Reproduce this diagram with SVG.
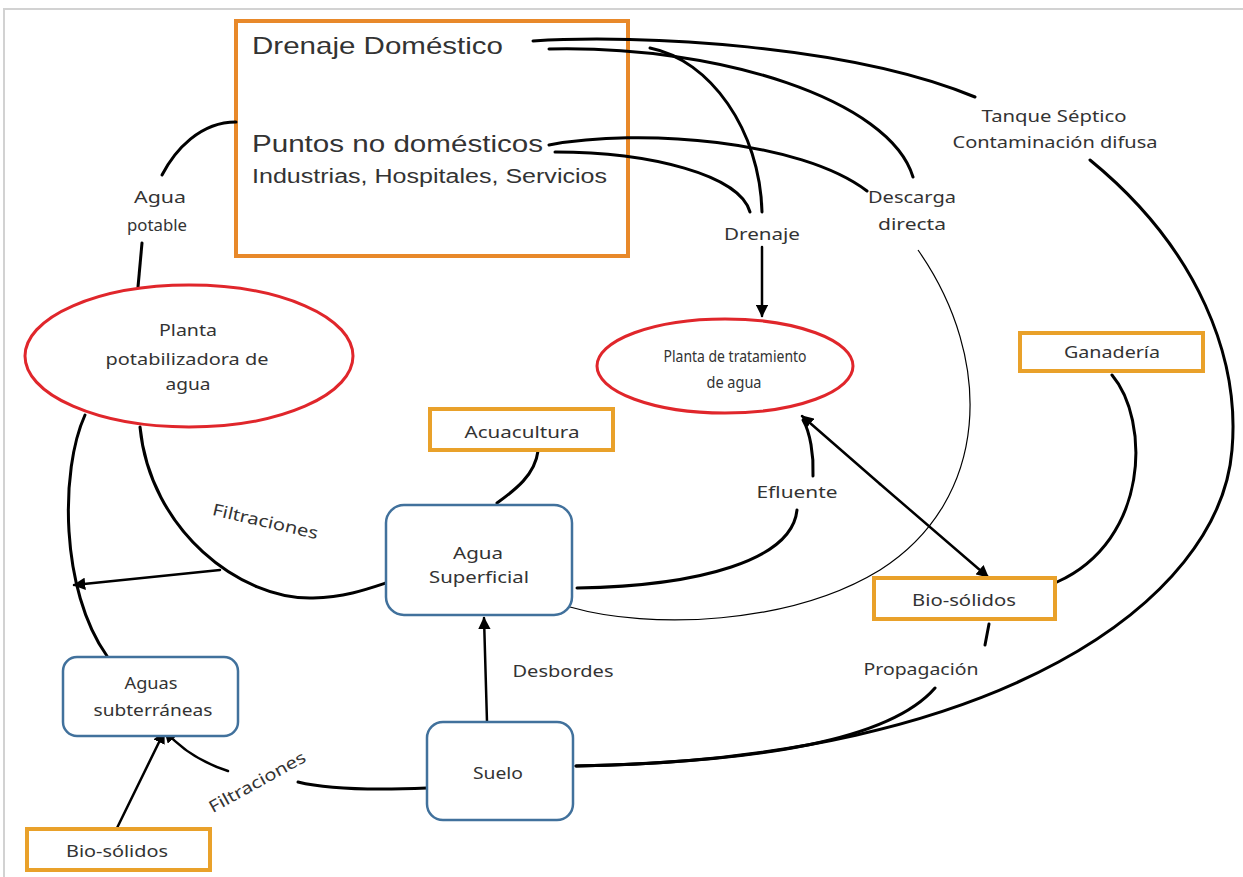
<svg xmlns="http://www.w3.org/2000/svg" width="1243" height="877" viewBox="0 0 1243 877">
<defs>
<marker id="ah" viewBox="0 0 10 10" refX="9" refY="5" markerWidth="5" markerHeight="5" orient="auto-start-reverse" markerUnits="strokeWidth">
<path d="M0,0 L10,5 L0,10 z" fill="#000"/>
</marker>
<style>
.frame{fill:none;stroke:#d2d2d2;stroke-width:2}
.big{fill:none;stroke:#E8892A;stroke-width:4}
.ob{fill:#fff;stroke:#E9A12A;stroke-width:4}
.el{fill:#fff;stroke:#E0262B;stroke-width:3}
.bl{fill:#fff;stroke:#41719C;stroke-width:2.5}
.c{fill:none;stroke:#000;stroke-width:3;stroke-linecap:round}
.thin{fill:none;stroke:#000;stroke-width:1.2}
.ar{marker-end:url(#ah)}
.t{font-family:"Noto Sans","Open Sans",sans-serif;font-size:16.5px;fill:#333;text-anchor:middle}
.a{font-family:"Liberation Sans",Arial,sans-serif;fill:#333}
</style>
</defs>
<rect width="1243" height="877" fill="#fff"/>
<path class="frame" d="M4,877 L4,9 L1243,9"/>

<g id="n-domestico">
<rect class="big" x="236" y="21" width="392" height="235"/>
<text class="a" x="252" y="54" font-size="24" textLength="251" lengthAdjust="spacingAndGlyphs">Drenaje Doméstico</text>
<text class="a" x="252" y="152" font-size="24" textLength="291" lengthAdjust="spacingAndGlyphs">Puntos no domésticos</text>
<text class="a" x="252" y="183" font-size="20" textLength="355" lengthAdjust="spacingAndGlyphs">Industrias, Hospitales, Servicios</text>
</g>

<g id="connectors">
<path class="c" d="M533,41 C640,34 850,45 975,97"/>
<path class="c" d="M549,49 C720,45 890,100 913,177"/>
<path class="c" d="M650,48 C710,60 760,130 762,212"/>
<path class="c" d="M549,145 C640,128 800,140 867,191"/>
<path class="c" d="M555,152 C650,152 740,175 750,212"/>
<path class="c" d="M1090,160 C1200,250 1240,360 1232,450 C1220,600 1000,760 576,766"/>
<path class="c" d="M935,688 C890,740 760,762 576,766"/>
<path class="c" d="M989,624 L985,645"/>
<path class="c" d="M1112,375 C1150,420 1150,540 1057,582"/>
<path class="c ar" d="M880,484 L988,577" style="stroke-width:2.5"/>
<path class="c ar" d="M880,484 L802,416" style="stroke-width:2.5"/>
<path class="c" d="M813,476 C814,455 810,432 803,420"/>
<path class="c" d="M577,588 C700,586 792,560 797,510"/>
<path class="thin" d="M918,250 C995,360 990,500 880,570 C790,625 650,630 570,607"/>
<path class="c ar" d="M762,247 L762,316" style="stroke-width:2.5"/>
<path class="c" d="M236,122 C200,122 175,150 162,175"/>
<path class="c" d="M142,243 L138,287"/>
<path class="c" d="M538,451 C535,475 515,490 497,503"/>
<path class="c" d="M140,427 C150,530 240,600 313,598 C345,597 365,590 386,583"/>
<path class="c" d="M85,415 C60,470 60,590 107,656"/>
<path class="c ar" d="M220,570 L74,585" style="stroke-width:2.5"/>
<path class="c ar" d="M487,722 L484,618" style="stroke-width:2.5"/>
<path class="c" d="M427,788 C380,790 330,790 298,782"/>
<path class="c ar" d="M228,771 C200,762 180,748 165,731" style="stroke-width:2.5"/>
<path class="c ar" d="M117,828 L164,732" style="stroke-width:2.5"/>
</g>

<g id="labels">
<text class="t" x="160" y="203" textLength="52" lengthAdjust="spacingAndGlyphs">Agua</text>
<text class="t" x="157" y="231" textLength="60" lengthAdjust="spacingAndGlyphs">potable</text>
<text class="t" x="762" y="240" textLength="76" lengthAdjust="spacingAndGlyphs">Drenaje</text>
<text class="t" x="912" y="203" textLength="88" lengthAdjust="spacingAndGlyphs">Descarga</text>
<text class="t" x="912" y="230" textLength="68" lengthAdjust="spacingAndGlyphs">directa</text>
<text class="t" x="1054" y="122" textLength="145" lengthAdjust="spacingAndGlyphs">Tanque Séptico</text>
<text class="t" x="1055" y="148" textLength="205" lengthAdjust="spacingAndGlyphs">Contaminación difusa</text>
<text class="t" x="797" y="498" textLength="81" lengthAdjust="spacingAndGlyphs">Efluente</text>
<text class="t" x="563" y="677" textLength="101" lengthAdjust="spacingAndGlyphs">Desbordes</text>
<text class="t" x="921" y="675" textLength="115" lengthAdjust="spacingAndGlyphs">Propagación</text>
<text class="t" x="0" y="0" textLength="108" lengthAdjust="spacingAndGlyphs" transform="translate(264,527) rotate(13)">Filtraciones</text>
<text class="t" x="0" y="0" textLength="108" lengthAdjust="spacingAndGlyphs" transform="translate(260,787) rotate(-29)">Filtraciones</text>
</g>

<g id="n-potabilizadora">
<ellipse class="el" cx="189" cy="356" rx="164" ry="71"/>
<text class="t" x="188" y="336" textLength="58" lengthAdjust="spacingAndGlyphs">Planta</text>
<text class="t" x="187" y="365" textLength="163" lengthAdjust="spacingAndGlyphs">potabilizadora de</text>
<text class="t" x="188" y="390" textLength="45" lengthAdjust="spacingAndGlyphs">agua</text>
</g>

<g id="n-tratamiento">
<ellipse class="el" cx="725" cy="366" rx="128" ry="47"/>
<text class="t" x="735" y="362" textLength="143" lengthAdjust="spacingAndGlyphs">Planta de tratamiento</text>
<text class="t" x="734" y="388" textLength="55" lengthAdjust="spacingAndGlyphs">de agua</text>
</g>

<g id="n-ganaderia">
<rect class="ob" x="1020" y="333" width="183" height="38"/>
<text class="t" x="1112" y="358" textLength="96" lengthAdjust="spacingAndGlyphs">Ganadería</text>
</g>

<g id="n-acuacultura">
<rect class="ob" x="430" y="409" width="183" height="41"/>
<text class="t" x="522" y="438" textLength="115" lengthAdjust="spacingAndGlyphs">Acuacultura</text>
</g>

<g id="n-superficial">
<rect class="bl" x="386" y="505" width="186" height="110" rx="18"/>
<text class="t" x="478" y="559" textLength="50" lengthAdjust="spacingAndGlyphs">Agua</text>
<text class="t" x="479" y="583" textLength="100" lengthAdjust="spacingAndGlyphs">Superficial</text>
</g>

<g id="n-biosolidos-der">
<rect class="ob" x="874" y="578" width="181" height="41"/>
<text class="t" x="964" y="606" textLength="104" lengthAdjust="spacingAndGlyphs">Bio-sólidos</text>
</g>

<g id="n-subterraneas">
<rect class="bl" x="63" y="657" width="175" height="79" rx="14"/>
<text class="t" x="151" y="689" textLength="53" lengthAdjust="spacingAndGlyphs">Aguas</text>
<text class="t" x="153" y="716" textLength="119" lengthAdjust="spacingAndGlyphs">subterráneas</text>
</g>

<g id="n-suelo">
<rect class="bl" x="427" y="722" width="146" height="98" rx="16"/>
<text class="t" x="498" y="779" textLength="50" lengthAdjust="spacingAndGlyphs">Suelo</text>
</g>

<g id="n-biosolidos-izq">
<rect class="ob" x="27" y="829" width="183" height="41"/>
<text class="t" x="117" y="857" textLength="102" lengthAdjust="spacingAndGlyphs">Bio-sólidos</text>
</g>
</svg>
